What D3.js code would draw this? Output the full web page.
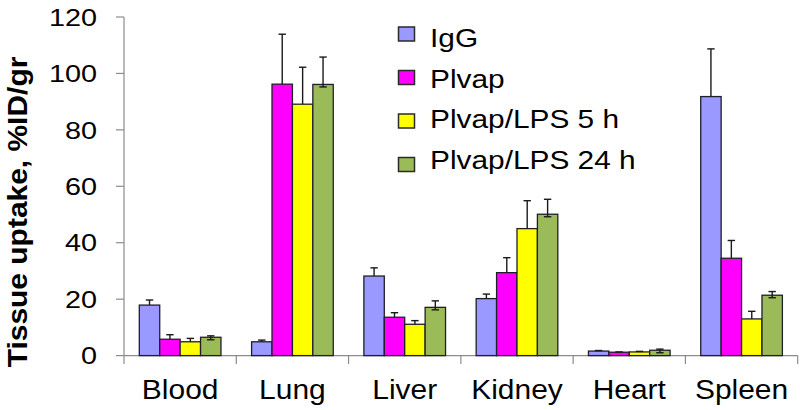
<!DOCTYPE html>
<html>
<head>
<meta charset="utf-8">
<script src="https://cdn.jsdelivr.net/npm/d3@7/dist/d3.min.js"></script>
<style>
  html, body { margin: 0; padding: 0; background: #fff; }
  svg { display: block; }
  text { font-family: "Liberation Sans", Arial, sans-serif; fill: #000; }
</style>
</head>
<body>
<svg id="chart" width="800" height="410"></svg>
<script>
const categories = ["Blood", "Lung", "Liver", "Kidney", "Heart", "Spleen"];
const seriesNames = ["IgG", "Plvap", "Plvap/LPS 5 h", "Plvap/LPS 24 h"];
const igG        = [17.9,  4.9, 28.2, 20.2,  1.6, 91.8];
const plvap      = [ 5.8, 96.2, 13.6, 29.4,  1.2, 34.5];
const plvapLps5  = [ 4.9, 89.1, 11.1, 45.0,  1.3, 13.0];
const plvapLps24 = [ 6.5, 96.1, 17.1, 50.1,  1.9, 21.4];
const igGErr        = [1.8, 0.6, 2.9, 1.6, 0.2, 16.9];
const plvapErr      = [1.6, 17.7, 1.6, 5.3, 0.1, 6.3];
const plvapLps5Err  = [1.2, 13.1, 1.3, 9.9, 0.2, 2.7];
const plvapLps24Err = [0.5, 9.7, 2.3, 5.3, 0.4, 1.3];
const yTicks = [0, 20, 40, 60, 80, 100, 120];
const yLabel = "Tissue uptake, %ID/gr";

const values = [igG, plvap, plvapLps5, plvapLps24];
const errors = [igGErr, plvapErr, plvapLps5Err, plvapLps24Err];
const colors = ["#9999ff", "#ff00ff", "#ffff00", "#9bbb59"];

const svg = d3.select("#chart");
const x0 = d3.scaleBand().domain(categories).range([124, 797.7]).paddingInner(0).paddingOuter(0);
const x1 = d3.scaleBand().domain(d3.range(seriesNames.length)).range([0, x0.bandwidth()]).paddingInner(0).paddingOuter(0.75);
const y = d3.scaleLinear().domain([0, 120]).range([355.6, 17]);

const axisColor = "#8c8c8c";

// Y axis
const yAxis = svg.append("g");
yAxis.append("line").attr("x1", 124).attr("x2", 124).attr("y1", y(120)).attr("y2", y(0))
  .attr("stroke", axisColor).attr("stroke-width", 1.2);
yTicks.forEach(t => {
  yAxis.append("line").attr("x1", 116).attr("x2", 124).attr("y1", y(t)).attr("y2", y(t))
    .attr("stroke", axisColor).attr("stroke-width", 1.2);
  yAxis.append("text").attr("transform", `translate(97,${y(t)}) scale(1.2,1)`)
    .attr("text-anchor", "end").attr("dy", "0.36em").style("font-size", "24px").text(t);
});

// X axis
const xAxis = svg.append("g");
xAxis.append("line").attr("x1", 124).attr("x2", 797.7).attr("y1", y(0)).attr("y2", y(0))
  .attr("stroke", axisColor).attr("stroke-width", 1.2);
const bounds = categories.map(c => x0(c)).concat([x0(categories[categories.length - 1]) + x0.bandwidth()]);
bounds.forEach(b => {
  xAxis.append("line").attr("x1", b).attr("x2", b).attr("y1", y(0)).attr("y2", y(0) + 8.5)
    .attr("stroke", axisColor).attr("stroke-width", 1.2);
});
categories.forEach(c => {
  xAxis.append("text").attr("transform", `translate(${x0(c) + x0.bandwidth() / 2},399) scale(1.07,1)`)
    .attr("text-anchor", "middle").style("font-size", "28px").text(c);
});

// Bars
const groups = svg.append("g");
categories.forEach((c, ci) => {
  values.forEach((vals, si) => {
    const v = vals[ci];
    const bx = x0(c) + x1(si);
    groups.append("rect")
      .attr("x", bx).attr("y", y(v))
      .attr("width", x1.bandwidth()).attr("height", y(0) - y(v))
      .attr("fill", colors[si]).attr("stroke", "#1f1f2a").attr("stroke-width", 1.3);
  });
});
// Error bars
const eb = svg.append("g").attr("stroke", "#1a1a1a").attr("stroke-width", 1.4);
categories.forEach((c, ci) => {
  values.forEach((vals, si) => {
    const v = vals[ci], e = errors[si][ci];
    const cx = x0(c) + x1(si) + x1.bandwidth() / 2;
    eb.append("line").attr("x1", cx).attr("x2", cx).attr("y1", y(v)).attr("y2", y(v + e));
    eb.append("line").attr("x1", cx - 3.7).attr("x2", cx + 3.7).attr("y1", y(v + e)).attr("y2", y(v + e));
    if (si === 3) {
      eb.append("line").attr("x1", cx).attr("x2", cx).attr("y1", y(v)).attr("y2", y(v) + 2.5);
      eb.append("line").attr("x1", cx - 3.7).attr("x2", cx + 3.7).attr("y1", y(v) + 2.5).attr("y2", y(v) + 2.5);
    }
  });
});

// Y label
svg.append("text").attr("transform", "translate(27,212) rotate(-90) scale(1.07,1)")
  .attr("text-anchor", "middle").style("font-size", "28px").style("font-weight", "bold").text(yLabel);

// Legend
const legend = svg.append("g");
seriesNames.forEach((s, i) => {
  const cy = 34 + i * 43.5;
  legend.append("rect").attr("x", 398.5).attr("y", cy - 7).attr("width", 16).attr("height", 14)
    .attr("fill", colors[i]).attr("stroke", "#2a2a2a").attr("stroke-width", 1.5);
  legend.append("text").attr("transform", `translate(430,${47 + i * 40.7}) scale(1.17,1)`)
    .style("font-size", "25.5px").text(s);
});
</script>
</body>
</html>
